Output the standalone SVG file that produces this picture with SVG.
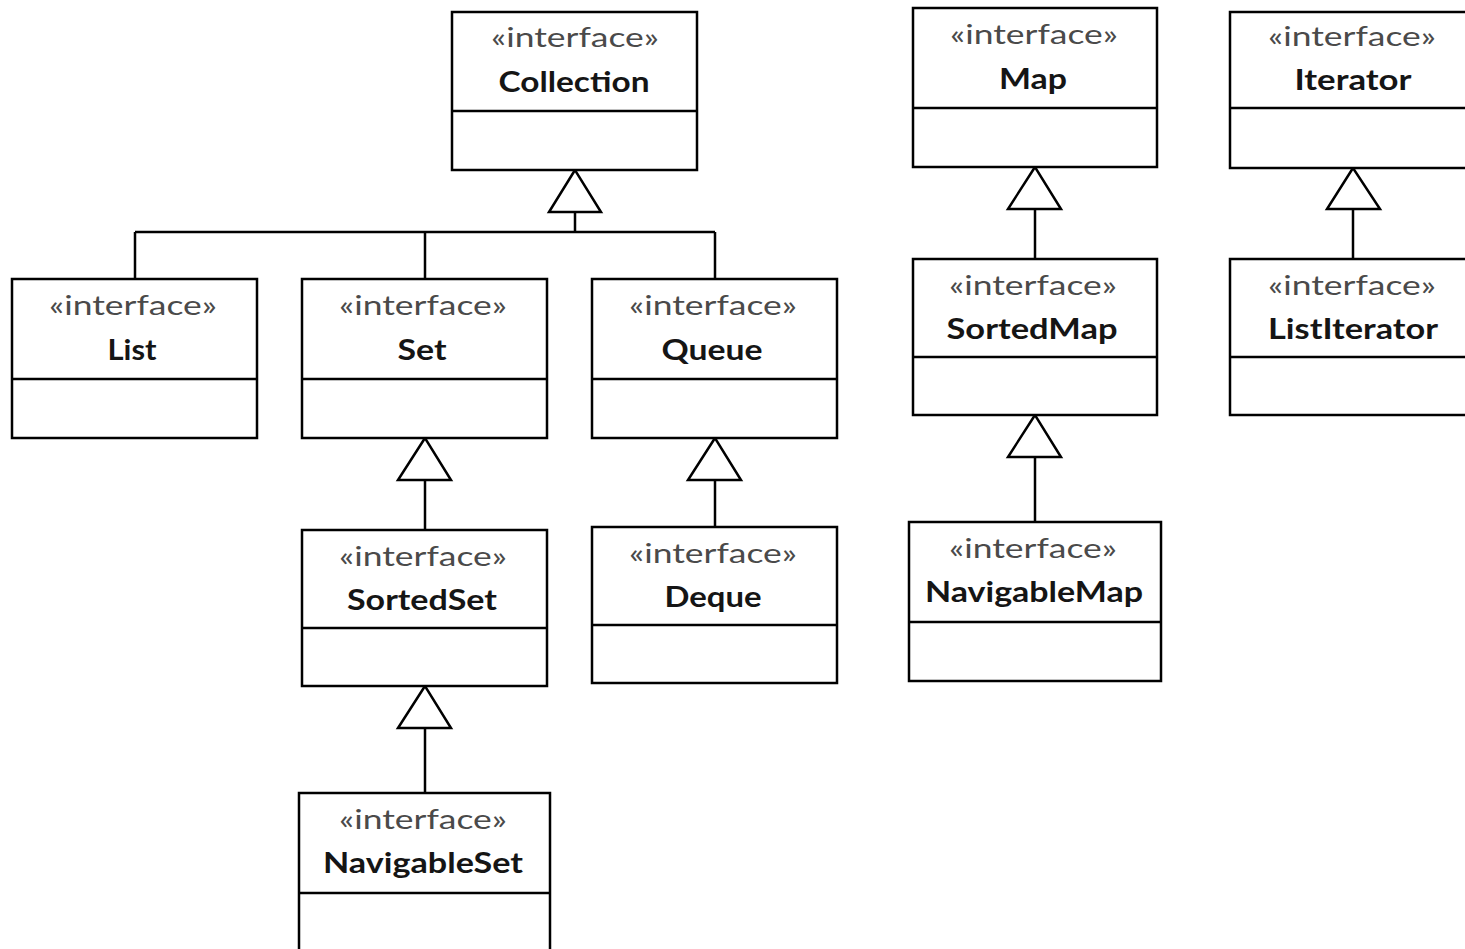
<svg xmlns="http://www.w3.org/2000/svg" width="1465" height="949" viewBox="0 0 1465 949">
<style>
.box{fill:#fff;stroke:#000;stroke-width:2.5}
.div{stroke:#000;stroke-width:2.5}
.st{font-family:Lato,"Liberation Sans",sans-serif;font-size:27px;fill:#4a4a4a;text-anchor:middle}
.nm{font-family:Lato,"Liberation Sans",sans-serif;font-size:29px;font-weight:bold;fill:#151515;text-anchor:middle}
.ln{fill:none;stroke:#000;stroke-width:2.5}
.tri{fill:#fff;stroke:#000;stroke-width:2.5;stroke-linejoin:miter}
</style>
<rect width="1465" height="949" fill="#fff"/>
<g id="connectors">
<path class="ln" d="M575 212V232M135 232H715M135 232V279M425 232V279M715 232V279"/>
<polygon class="tri" points="575,170 549,212 601,212"/>
<path class="ln" d="M425 480V530"/>
<polygon class="tri" points="425,438 398,480 451,480"/>
<path class="ln" d="M715 480V527"/>
<polygon class="tri" points="715,438 688,480 741,480"/>
<path class="ln" d="M425 728V793"/>
<polygon class="tri" points="425,686 398,728 451,728"/>
<path class="ln" d="M1035 209V259"/>
<polygon class="tri" points="1035,167 1008,209 1061,209"/>
<path class="ln" d="M1035 457V522"/>
<polygon class="tri" points="1035,415 1008,457 1061,457"/>
<path class="ln" d="M1353 209V259"/>
<polygon class="tri" points="1353,168 1327,209 1380,209"/>
</g>
<g id="collection">
<rect class="box" x="452" y="12" width="245" height="158"/>
<line class="div" x1="452" y1="111" x2="697" y2="111"/>
<text class="st" x="575" y="47" textLength="168" lengthAdjust="spacingAndGlyphs">«interface»</text>
<text class="nm" x="574" y="92" textLength="151" lengthAdjust="spacingAndGlyphs">Collection</text>
</g>
<g id="map">
<rect class="box" x="913" y="8" width="244" height="159"/>
<line class="div" x1="913" y1="108" x2="1157" y2="108"/>
<text class="st" x="1034" y="44" textLength="168" lengthAdjust="spacingAndGlyphs">«interface»</text>
<text class="nm" x="1033" y="89" textLength="68" lengthAdjust="spacingAndGlyphs">Map</text>
</g>
<g id="iterator">
<rect class="box" x="1230" y="12" width="250" height="156"/>
<line class="div" x1="1230" y1="108" x2="1480" y2="108"/>
<text class="st" x="1352" y="46" textLength="168" lengthAdjust="spacingAndGlyphs">«interface»</text>
<text class="nm" x="1353" y="90" textLength="117" lengthAdjust="spacingAndGlyphs">Iterator</text>
</g>
<g id="list">
<rect class="box" x="12" y="279" width="245" height="159"/>
<line class="div" x1="12" y1="379" x2="257" y2="379"/>
<text class="st" x="133" y="315" textLength="168" lengthAdjust="spacingAndGlyphs">«interface»</text>
<text class="nm" x="132" y="360" textLength="49" lengthAdjust="spacingAndGlyphs">List</text>
</g>
<g id="set">
<rect class="box" x="302" y="279" width="245" height="159"/>
<line class="div" x1="302" y1="379" x2="547" y2="379"/>
<text class="st" x="423" y="315" textLength="168" lengthAdjust="spacingAndGlyphs">«interface»</text>
<text class="nm" x="422" y="360" textLength="49" lengthAdjust="spacingAndGlyphs">Set</text>
</g>
<g id="queue">
<rect class="box" x="592" y="279" width="245" height="159"/>
<line class="div" x1="592" y1="379" x2="837" y2="379"/>
<text class="st" x="713" y="315" textLength="168" lengthAdjust="spacingAndGlyphs">«interface»</text>
<text class="nm" x="712" y="360" textLength="101" lengthAdjust="spacingAndGlyphs">Queue</text>
</g>
<g id="sortedmap">
<rect class="box" x="913" y="259" width="244" height="156"/>
<line class="div" x1="913" y1="357" x2="1157" y2="357"/>
<text class="st" x="1033" y="295" textLength="168" lengthAdjust="spacingAndGlyphs">«interface»</text>
<text class="nm" x="1032" y="339" textLength="171" lengthAdjust="spacingAndGlyphs">SortedMap</text>
</g>
<g id="listiterator">
<rect class="box" x="1230" y="259" width="250" height="156"/>
<line class="div" x1="1230" y1="357" x2="1480" y2="357"/>
<text class="st" x="1352" y="295" textLength="168" lengthAdjust="spacingAndGlyphs">«interface»</text>
<text class="nm" x="1353" y="339" textLength="170" lengthAdjust="spacingAndGlyphs">ListIterator</text>
</g>
<g id="sortedset">
<rect class="box" x="302" y="530" width="245" height="156"/>
<line class="div" x1="302" y1="628" x2="547" y2="628"/>
<text class="st" x="423" y="566" textLength="168" lengthAdjust="spacingAndGlyphs">«interface»</text>
<text class="nm" x="422" y="610" textLength="150" lengthAdjust="spacingAndGlyphs">SortedSet</text>
</g>
<g id="deque">
<rect class="box" x="592" y="527" width="245" height="156"/>
<line class="div" x1="592" y1="625" x2="837" y2="625"/>
<text class="st" x="713" y="563" textLength="168" lengthAdjust="spacingAndGlyphs">«interface»</text>
<text class="nm" x="713" y="607" textLength="97" lengthAdjust="spacingAndGlyphs">Deque</text>
</g>
<g id="navigablemap">
<rect class="box" x="909" y="522" width="252" height="159"/>
<line class="div" x1="909" y1="622" x2="1161" y2="622"/>
<text class="st" x="1033" y="558" textLength="168" lengthAdjust="spacingAndGlyphs">«interface»</text>
<text class="nm" x="1034" y="602" textLength="218" lengthAdjust="spacingAndGlyphs">NavigableMap</text>
</g>
<g id="navigableset">
<rect class="box" x="299" y="793" width="251" height="170"/>
<line class="div" x1="299" y1="893" x2="550" y2="893"/>
<text class="st" x="423" y="829" textLength="168" lengthAdjust="spacingAndGlyphs">«interface»</text>
<text class="nm" x="423" y="873" textLength="200" lengthAdjust="spacingAndGlyphs">NavigableSet</text>
</g>
</svg>
